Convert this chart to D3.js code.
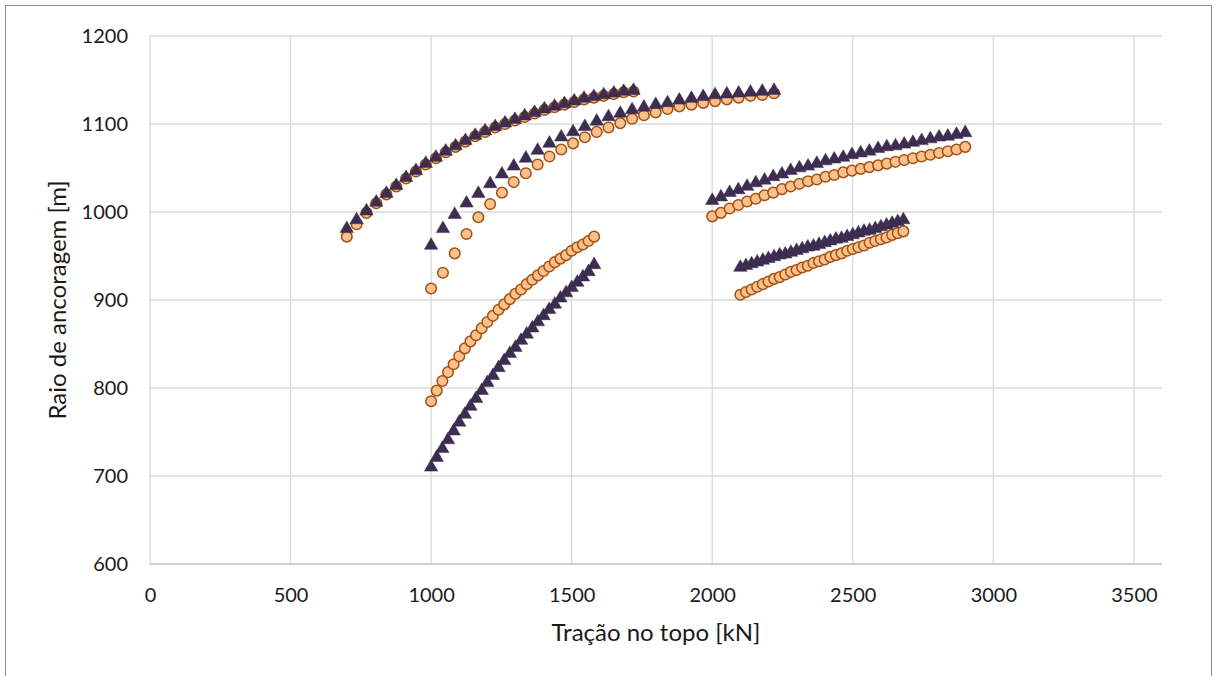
<!DOCTYPE html>
<html>
<head>
<meta charset="utf-8">
<script src="https://cdn.jsdelivr.net/npm/d3@7"></script>
<style>
  html, body { margin: 0; padding: 0; background: #ffffff; }
  svg { display: block; }
  text { font-family: Lato, "Open Sans", "DejaVu Sans", sans-serif; fill: #1a1a1a; }
</style>
</head>
<body>
<svg id="chart" width="1216" height="676"></svg>
<script>
// ---------- data ----------
const xTicks = [0, 500, 1000, 1500, 2000, 2500, 3000, 3500];
const yTicks = [600, 700, 800, 900, 1000, 1100, 1200];
const xTitle = "Tração no topo [kN]";
const yTitle = "Raio de ancoragem [m]";

// group A
const xA = [700, 735, 770, 805, 841, 876, 911, 946, 981, 1017, 1052, 1087, 1122, 1157, 1192, 1228, 1263, 1298, 1333, 1368, 1403, 1439, 1474, 1509, 1544, 1579, 1614, 1650, 1685, 1720];
const circA = [972, 986, 999, 1010, 1020, 1029, 1038, 1046, 1054, 1061, 1068, 1074, 1080, 1086, 1091, 1096, 1100, 1104, 1108, 1112, 1116, 1119, 1122, 1125, 1128, 1130, 1132, 1134, 1136, 1137];
const triA  = [981, 991, 1001, 1011, 1021, 1030, 1039, 1047, 1055, 1062, 1069, 1075, 1081, 1087, 1092, 1097, 1101, 1105, 1109, 1113, 1117, 1120, 1123, 1126, 1129, 1131, 1133, 1135, 1137, 1138];

// group B
const xB = [1000, 1042, 1084, 1126, 1168, 1210, 1252, 1294, 1337, 1379, 1421, 1463, 1505, 1547, 1589, 1631, 1673, 1715, 1757, 1799, 1841, 1883, 1926, 1968, 2010, 2052, 2094, 2136, 2178, 2220];
const circB = [913, 931, 953, 975, 994, 1009, 1022, 1034, 1044, 1054, 1063, 1071, 1078, 1085, 1091, 1096, 1101, 1106, 1110, 1113, 1117, 1120, 1122, 1124, 1126, 1128, 1130, 1132, 1133, 1135];
const triB  = [962, 981, 997, 1010, 1021, 1032, 1043, 1052, 1061, 1070, 1078, 1085, 1091, 1097, 1103, 1108, 1112, 1116, 1119, 1122, 1124, 1127, 1129, 1131, 1133, 1134, 1135, 1136, 1137, 1138];

// group C
const xC = [1000, 1020, 1040, 1060, 1080, 1100, 1120, 1140, 1160, 1180, 1200, 1220, 1240, 1260, 1280, 1300, 1320, 1340, 1360, 1380, 1400, 1420, 1440, 1460, 1480, 1500, 1520, 1540, 1560, 1580];
const circC = [785, 797, 808, 818, 827, 836, 845, 853, 860, 868, 875, 882, 889, 895, 901, 907, 912, 918, 923, 928, 933, 938, 943, 947, 951, 956, 960, 963, 967, 972];
const triC  = [710, 721, 731, 741, 751, 761, 770, 779, 788, 797, 806, 814, 823, 831, 839, 846, 854, 861, 868, 875, 882, 889, 895, 902, 908, 914, 920, 926, 932, 940];

// group D
const xD = [2000, 2031, 2062, 2093, 2124, 2155, 2186, 2217, 2248, 2279, 2310, 2341, 2372, 2403, 2434, 2466, 2497, 2528, 2559, 2590, 2621, 2652, 2683, 2714, 2745, 2776, 2807, 2838, 2869, 2900];
const circD = [995, 999, 1004, 1008, 1012, 1015, 1019, 1022, 1026, 1029, 1032, 1035, 1037, 1040, 1042, 1045, 1047, 1049, 1051, 1053, 1055, 1057, 1059, 1061, 1063, 1065, 1067, 1069, 1071, 1074];
const triD  = [1013, 1017, 1022, 1025, 1029, 1033, 1036, 1040, 1043, 1047, 1050, 1052, 1055, 1058, 1060, 1062, 1065, 1067, 1069, 1072, 1074, 1075, 1077, 1079, 1081, 1083, 1085, 1086, 1088, 1090];

// group E
const xE = [2100, 2120, 2140, 2160, 2180, 2200, 2220, 2240, 2260, 2280, 2300, 2320, 2340, 2360, 2380, 2400, 2420, 2440, 2460, 2480, 2500, 2520, 2540, 2560, 2580, 2600, 2620, 2640, 2660, 2680];
const circE = [906, 909, 912, 915, 918, 921, 924, 926, 929, 932, 934, 937, 939, 942, 944, 946, 949, 951, 953, 956, 958, 960, 962, 965, 967, 969, 971, 974, 976, 978];
const triE  = [937, 939, 941, 943, 945, 947, 949, 951, 952, 954, 956, 958, 960, 961, 963, 965, 967, 969, 970, 972, 974, 976, 978, 979, 981, 983, 985, 987, 989, 991];

const circleGroups = [[xA, circA], [xB, circB], [xC, circC], [xD, circD], [xE, circE]];
const triangleGroups = [[xA, triA], [xB, triB], [xC, triC], [xD, triD], [xE, triE]];

// ---------- layout ----------
const svg = d3.select("#chart");
const plot = { left: 150, right: 1162, top: 36, bottom: 564 };

const x = d3.scaleLinear().domain([0, 3600]).range([plot.left, plot.right]);
const y = d3.scaleLinear().domain([600, 1200]).range([plot.bottom, plot.top]);

// chart border
svg.append("rect")
  .attr("x", 5.5).attr("y", 5.5)
  .attr("width", 1206).attr("height", 700)
  .attr("fill", "none").attr("stroke", "#8c8c8c").attr("stroke-width", 1);

// gridlines
svg.append("g").selectAll("line.h").data(yTicks.filter(d => d !== 600)).join("line")
  .attr("x1", plot.left).attr("x2", plot.right)
  .attr("y1", d => y(d)).attr("y2", d => y(d))
  .attr("stroke", "#d9d9d9").attr("stroke-width", 1.3);
svg.append("g").selectAll("line.v").data(xTicks).join("line")
  .attr("y1", plot.top).attr("y2", plot.bottom)
  .attr("x1", d => x(d)).attr("x2", d => x(d))
  .attr("stroke", "#d9d9d9").attr("stroke-width", 1.3);

// bottom axis line
svg.append("line")
  .attr("x1", plot.left).attr("x2", plot.right)
  .attr("y1", y(600)).attr("y2", y(600))
  .attr("stroke", "#bfbfbf").attr("stroke-width", 1.5);

// axes (labels only)
const xAxis = svg.append("g")
  .attr("transform", `translate(0,${plot.bottom})`)
  .call(d3.axisBottom(x).tickValues(xTicks).tickSize(0).tickPadding(24).tickFormat(d3.format("d")));
const yAxis = svg.append("g")
  .attr("transform", `translate(${plot.left},0)`)
  .call(d3.axisLeft(y).tickValues(yTicks).tickSize(0).tickPadding(22).tickFormat(d3.format("d")));
[xAxis, yAxis].forEach(a => {
  a.select(".domain").remove();
  a.selectAll("text").attr("font-size", 20).attr("fill", "#1a1a1a")
    .style("font-family", "Lato, 'Open Sans', sans-serif");
});

// axis titles
svg.append("text")
  .attr("x", (plot.left + plot.right) / 2).attr("y", 641)
  .attr("text-anchor", "middle").attr("font-size", 24)
  .text(xTitle);
svg.append("text")
  .attr("transform", `translate(66,${(plot.top + plot.bottom) / 2}) rotate(-90)`)
  .attr("text-anchor", "middle").attr("font-size", 24)
  .text(yTitle);

// circles
const gC = svg.append("g");
circleGroups.forEach(([xs, ys]) => {
  gC.append("g").selectAll("circle").data(xs.map((d, i) => [d, ys[i]])).join("circle")
    .attr("cx", d => x(d[0])).attr("cy", d => y(d[1])).attr("r", 5.3)
    .attr("fill", "#fbc08e").attr("stroke", "#a3520f").attr("stroke-width", 1.5);
});

// triangles
const tri = d3.symbol().type(d3.symbolTriangle).size(78);
const gT = svg.append("g");
triangleGroups.forEach(([xs, ys]) => {
  gT.append("g").selectAll("path").data(xs.map((d, i) => [d, ys[i]])).join("path")
    .attr("d", tri)
    .attr("transform", d => `translate(${x(d[0])},${y(d[1])})`)
    .attr("fill", "#3d2d50").attr("stroke", "#3d2d50").attr("stroke-width", 0.5);
});
</script>
</body>
</html>
